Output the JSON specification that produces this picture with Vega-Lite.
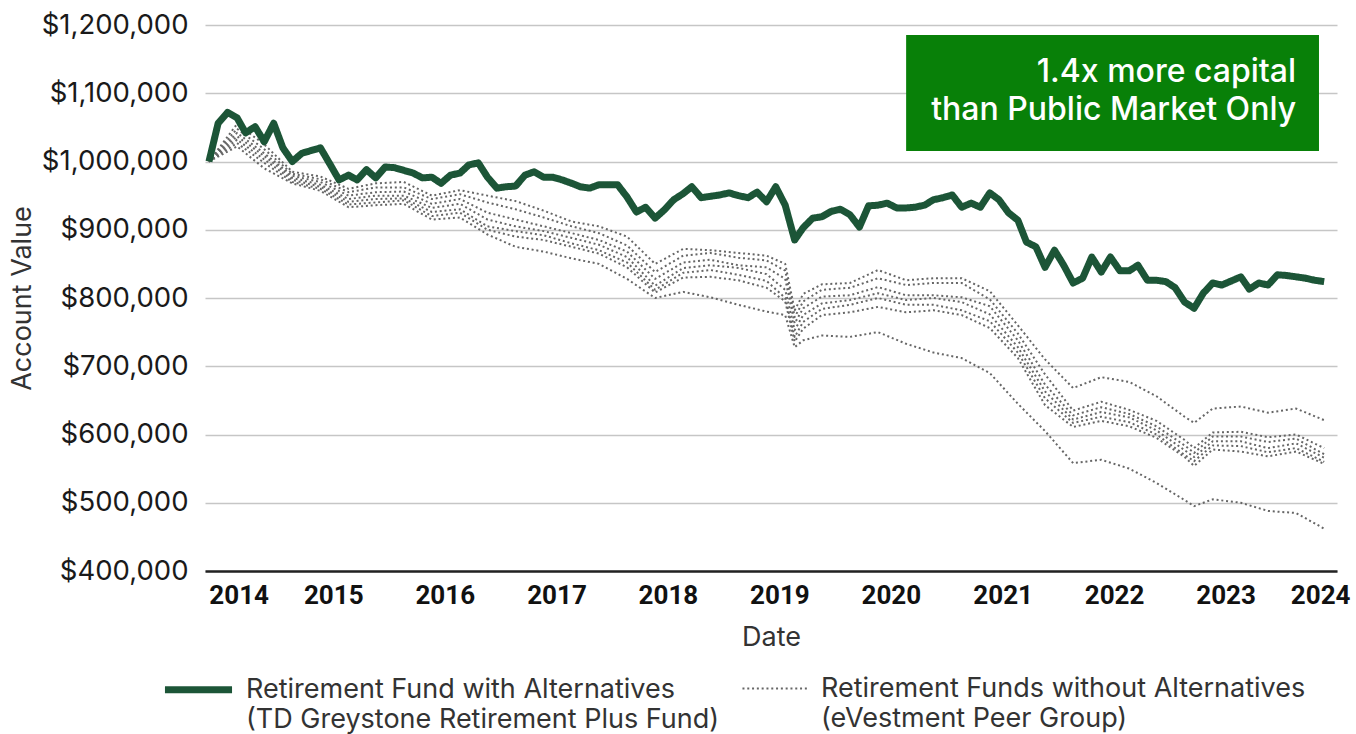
{
  "$schema": "https://vega.github.io/schema/vega-lite/v6.json",
  "width": 1132,
  "height": 546,
  "autosize": {"type": "none"},
  "padding": {"left": 205, "top": 25, "right": 19, "bottom": 163},
  "background": "white",
  "config": {
    "font": "Inter",
    "view": {"stroke": null},
    "style": {"guide-label": {"lineHeight": 30}},
    "legend": {"layout": {"bottom": {"anchor": "end"}}}
  },
  "layer": [
    {
      "data": {"values": [
        {"date":"2013-11-20","TD Greystone Retirement Plus Fund":1000000,"Peer Fund 1":1000000,"Peer Fund 2":1000000,"Peer Fund 3":1000000,"Peer Fund 4":1000000,"Peer Fund 5":1000000,"Peer Fund 6":1000000,"Peer Fund 7":1000000},
        {"date":"2013-12-20","TD Greystone Retirement Plus Fund":1056000},
        {"date":"2014-01-20","TD Greystone Retirement Plus Fund":1072000},
        {"date":"2014-02-20","TD Greystone Retirement Plus Fund":1064000,"Peer Fund 1":1055000,"Peer Fund 2":1048000,"Peer Fund 3":1042000,"Peer Fund 4":1037000,"Peer Fund 5":1032000,"Peer Fund 6":1027000,"Peer Fund 7":1022000},
        {"date":"2014-03-20","TD Greystone Retirement Plus Fund":1042000},
        {"date":"2014-04-20","TD Greystone Retirement Plus Fund":1051000},
        {"date":"2014-05-20","TD Greystone Retirement Plus Fund":1029000,"Peer Fund 1":1025000,"Peer Fund 2":1018000,"Peer Fund 3":1012000,"Peer Fund 4":1008000,"Peer Fund 5":1003000,"Peer Fund 6":998000,"Peer Fund 7":990000},
        {"date":"2014-06-20","TD Greystone Retirement Plus Fund":1056000},
        {"date":"2014-07-20","TD Greystone Retirement Plus Fund":1020000},
        {"date":"2014-08-20","TD Greystone Retirement Plus Fund":1000000,"Peer Fund 1":985000,"Peer Fund 2":982000,"Peer Fund 3":979000,"Peer Fund 4":976000,"Peer Fund 5":973000,"Peer Fund 6":970000,"Peer Fund 7":968000},
        {"date":"2014-09-20","TD Greystone Retirement Plus Fund":1012000},
        {"date":"2014-10-20","TD Greystone Retirement Plus Fund":1016000},
        {"date":"2014-11-20","TD Greystone Retirement Plus Fund":1020000,"Peer Fund 1":978000,"Peer Fund 2":974000,"Peer Fund 3":970000,"Peer Fund 4":966000,"Peer Fund 5":963000,"Peer Fund 6":960000,"Peer Fund 7":957000},
        {"date":"2014-12-20","TD Greystone Retirement Plus Fund":997000},
        {"date":"2015-01-20","TD Greystone Retirement Plus Fund":973000},
        {"date":"2015-02-20","TD Greystone Retirement Plus Fund":980000,"Peer Fund 1":960000,"Peer Fund 2":955000,"Peer Fund 3":950000,"Peer Fund 4":945000,"Peer Fund 5":941000,"Peer Fund 6":937000,"Peer Fund 7":933000},
        {"date":"2015-03-20","TD Greystone Retirement Plus Fund":973000},
        {"date":"2015-04-20","TD Greystone Retirement Plus Fund":988000},
        {"date":"2015-05-20","TD Greystone Retirement Plus Fund":976000,"Peer Fund 1":968000,"Peer Fund 2":962000,"Peer Fund 3":955000,"Peer Fund 4":950000,"Peer Fund 5":945000,"Peer Fund 6":940000,"Peer Fund 7":936000},
        {"date":"2015-06-20","TD Greystone Retirement Plus Fund":992000},
        {"date":"2015-07-20","TD Greystone Retirement Plus Fund":991000},
        {"date":"2015-08-20","TD Greystone Retirement Plus Fund":987000,"Peer Fund 1":970000,"Peer Fund 2":962000,"Peer Fund 3":956000,"Peer Fund 4":950000,"Peer Fund 5":946000,"Peer Fund 6":943000,"Peer Fund 7":938000},
        {"date":"2015-09-20","TD Greystone Retirement Plus Fund":983000},
        {"date":"2015-10-20","TD Greystone Retirement Plus Fund":976000},
        {"date":"2015-11-20","TD Greystone Retirement Plus Fund":977000,"Peer Fund 1":950000,"Peer Fund 2":945000,"Peer Fund 3":938000,"Peer Fund 4":932000,"Peer Fund 5":926000,"Peer Fund 6":920000,"Peer Fund 7":915000},
        {"date":"2015-12-20","TD Greystone Retirement Plus Fund":968000},
        {"date":"2016-01-20","TD Greystone Retirement Plus Fund":980000},
        {"date":"2016-02-20","TD Greystone Retirement Plus Fund":983000,"Peer Fund 1":958000,"Peer Fund 2":952000,"Peer Fund 3":945000,"Peer Fund 4":938000,"Peer Fund 5":930000,"Peer Fund 6":925000,"Peer Fund 7":918000},
        {"date":"2016-03-20","TD Greystone Retirement Plus Fund":995000},
        {"date":"2016-04-20","TD Greystone Retirement Plus Fund":998000},
        {"date":"2016-05-20","TD Greystone Retirement Plus Fund":977000,"Peer Fund 1":950000,"Peer Fund 2":940000,"Peer Fund 3":925000,"Peer Fund 4":915000,"Peer Fund 5":905000,"Peer Fund 6":900000,"Peer Fund 7":893000},
        {"date":"2016-06-20","TD Greystone Retirement Plus Fund":961000},
        {"date":"2016-07-20","TD Greystone Retirement Plus Fund":963000},
        {"date":"2016-08-20","TD Greystone Retirement Plus Fund":964000,"Peer Fund 1":942000,"Peer Fund 2":930000,"Peer Fund 3":915000,"Peer Fund 4":905000,"Peer Fund 5":898000,"Peer Fund 6":890000,"Peer Fund 7":875000},
        {"date":"2016-09-20","TD Greystone Retirement Plus Fund":980000},
        {"date":"2016-10-20","TD Greystone Retirement Plus Fund":985000},
        {"date":"2016-11-20","TD Greystone Retirement Plus Fund":977000,"Peer Fund 1":928000,"Peer Fund 2":918000,"Peer Fund 3":905000,"Peer Fund 4":898000,"Peer Fund 5":892000,"Peer Fund 6":885000,"Peer Fund 7":868000},
        {"date":"2016-12-20","TD Greystone Retirement Plus Fund":977000},
        {"date":"2017-01-20","TD Greystone Retirement Plus Fund":973000},
        {"date":"2017-02-20","TD Greystone Retirement Plus Fund":968000,"Peer Fund 1":912000,"Peer Fund 2":905000,"Peer Fund 3":895000,"Peer Fund 4":888000,"Peer Fund 5":880000,"Peer Fund 6":875000,"Peer Fund 7":858000},
        {"date":"2017-03-20","TD Greystone Retirement Plus Fund":963000},
        {"date":"2017-04-20","TD Greystone Retirement Plus Fund":961000},
        {"date":"2017-05-20","TD Greystone Retirement Plus Fund":966000,"Peer Fund 1":905000,"Peer Fund 2":895000,"Peer Fund 3":885000,"Peer Fund 4":878000,"Peer Fund 5":870000,"Peer Fund 6":865000,"Peer Fund 7":850000},
        {"date":"2017-06-20","TD Greystone Retirement Plus Fund":966000},
        {"date":"2017-07-20","TD Greystone Retirement Plus Fund":966000},
        {"date":"2017-08-20","TD Greystone Retirement Plus Fund":948000,"Peer Fund 1":890000,"Peer Fund 2":877000,"Peer Fund 3":868000,"Peer Fund 4":860000,"Peer Fund 5":852000,"Peer Fund 6":845000,"Peer Fund 7":828000},
        {"date":"2017-09-20","TD Greystone Retirement Plus Fund":926000},
        {"date":"2017-10-20","TD Greystone Retirement Plus Fund":933000},
        {"date":"2017-11-20","TD Greystone Retirement Plus Fund":917000,"Peer Fund 1":850000,"Peer Fund 2":838000,"Peer Fund 3":828000,"Peer Fund 4":818000,"Peer Fund 5":812000,"Peer Fund 6":808000,"Peer Fund 7":800000},
        {"date":"2017-12-20","TD Greystone Retirement Plus Fund":929000},
        {"date":"2018-01-20","TD Greystone Retirement Plus Fund":944000},
        {"date":"2018-02-20","TD Greystone Retirement Plus Fund":953000,"Peer Fund 1":872000,"Peer Fund 2":862000,"Peer Fund 3":852000,"Peer Fund 4":844000,"Peer Fund 5":837000,"Peer Fund 6":830000,"Peer Fund 7":809000},
        {"date":"2018-03-20","TD Greystone Retirement Plus Fund":963000},
        {"date":"2018-04-20","TD Greystone Retirement Plus Fund":947000},
        {"date":"2018-05-20","TD Greystone Retirement Plus Fund":949000,"Peer Fund 1":870000,"Peer Fund 2":866000,"Peer Fund 3":856000,"Peer Fund 4":848000,"Peer Fund 5":841000,"Peer Fund 6":831000,"Peer Fund 7":801000},
        {"date":"2018-06-20","TD Greystone Retirement Plus Fund":951000},
        {"date":"2018-07-20","TD Greystone Retirement Plus Fund":954000},
        {"date":"2018-08-20","TD Greystone Retirement Plus Fund":950000,"Peer Fund 1":866000,"Peer Fund 2":859000,"Peer Fund 3":848000,"Peer Fund 4":844000,"Peer Fund 5":834000,"Peer Fund 6":826000,"Peer Fund 7":790000},
        {"date":"2018-09-20","TD Greystone Retirement Plus Fund":947000},
        {"date":"2018-10-20","TD Greystone Retirement Plus Fund":955000},
        {"date":"2018-11-20","TD Greystone Retirement Plus Fund":941000,"Peer Fund 1":862000,"Peer Fund 2":855000,"Peer Fund 3":845000,"Peer Fund 4":835000,"Peer Fund 5":825000,"Peer Fund 6":815000,"Peer Fund 7":780000},
        {"date":"2018-12-20","TD Greystone Retirement Plus Fund":963000},
        {"date":"2019-01-20","TD Greystone Retirement Plus Fund":936000,"Peer Fund 1":850000,"Peer Fund 2":840000,"Peer Fund 3":828000,"Peer Fund 4":812000,"Peer Fund 5":800000,"Peer Fund 6":795000,"Peer Fund 7":775000},
        {"date":"2019-02-20","TD Greystone Retirement Plus Fund":885000,"Peer Fund 1":782000,"Peer Fund 2":772000,"Peer Fund 3":763000,"Peer Fund 4":753000,"Peer Fund 5":743000,"Peer Fund 6":736000,"Peer Fund 7":728000},
        {"date":"2019-03-20","TD Greystone Retirement Plus Fund":903000,"Peer Fund 1":806000,"Peer Fund 2":795000,"Peer Fund 3":785000,"Peer Fund 4":775000,"Peer Fund 5":765000,"Peer Fund 6":755000,"Peer Fund 7":738000},
        {"date":"2019-04-20","TD Greystone Retirement Plus Fund":917000},
        {"date":"2019-05-20","TD Greystone Retirement Plus Fund":919000,"Peer Fund 1":820000,"Peer Fund 2":812000,"Peer Fund 3":802000,"Peer Fund 4":792000,"Peer Fund 5":784000,"Peer Fund 6":775000,"Peer Fund 7":745000},
        {"date":"2019-06-20","TD Greystone Retirement Plus Fund":927000},
        {"date":"2019-07-20","TD Greystone Retirement Plus Fund":930000},
        {"date":"2019-08-20","TD Greystone Retirement Plus Fund":922000,"Peer Fund 1":822000,"Peer Fund 2":815000,"Peer Fund 3":804000,"Peer Fund 4":797000,"Peer Fund 5":790000,"Peer Fund 6":779000,"Peer Fund 7":743000},
        {"date":"2019-09-20","TD Greystone Retirement Plus Fund":904000},
        {"date":"2019-10-20","TD Greystone Retirement Plus Fund":935000},
        {"date":"2019-11-20","TD Greystone Retirement Plus Fund":936000,"Peer Fund 1":841000,"Peer Fund 2":829000,"Peer Fund 3":816000,"Peer Fund 4":807000,"Peer Fund 5":800000,"Peer Fund 6":787000,"Peer Fund 7":750000},
        {"date":"2019-12-20","TD Greystone Retirement Plus Fund":939000},
        {"date":"2020-01-20","TD Greystone Retirement Plus Fund":932000},
        {"date":"2020-02-20","TD Greystone Retirement Plus Fund":932000,"Peer Fund 1":826000,"Peer Fund 2":819000,"Peer Fund 3":804000,"Peer Fund 4":797000,"Peer Fund 5":790000,"Peer Fund 6":779000,"Peer Fund 7":733000},
        {"date":"2020-03-20","TD Greystone Retirement Plus Fund":933000},
        {"date":"2020-04-20","TD Greystone Retirement Plus Fund":936000},
        {"date":"2020-05-20","TD Greystone Retirement Plus Fund":944000,"Peer Fund 1":829000,"Peer Fund 2":822000,"Peer Fund 3":804000,"Peer Fund 4":800000,"Peer Fund 5":790000,"Peer Fund 6":782000,"Peer Fund 7":720000},
        {"date":"2020-06-20","TD Greystone Retirement Plus Fund":947000},
        {"date":"2020-07-20","TD Greystone Retirement Plus Fund":951000},
        {"date":"2020-08-20","TD Greystone Retirement Plus Fund":933000,"Peer Fund 1":829000,"Peer Fund 2":822000,"Peer Fund 3":801000,"Peer Fund 4":794000,"Peer Fund 5":782000,"Peer Fund 6":775000,"Peer Fund 7":712000},
        {"date":"2020-09-20","TD Greystone Retirement Plus Fund":939000},
        {"date":"2020-10-20","TD Greystone Retirement Plus Fund":933000},
        {"date":"2020-11-20","TD Greystone Retirement Plus Fund":954000,"Peer Fund 1":810000,"Peer Fund 2":798000,"Peer Fund 3":788000,"Peer Fund 4":776000,"Peer Fund 5":766000,"Peer Fund 6":756000,"Peer Fund 7":690000},
        {"date":"2020-12-20","TD Greystone Retirement Plus Fund":944000},
        {"date":"2021-01-20","TD Greystone Retirement Plus Fund":925000},
        {"date":"2021-02-20","TD Greystone Retirement Plus Fund":914000,"Peer Fund 1":760000,"Peer Fund 2":748000,"Peer Fund 3":738000,"Peer Fund 4":728000,"Peer Fund 5":720000,"Peer Fund 6":712000,"Peer Fund 7":645000},
        {"date":"2021-03-20","TD Greystone Retirement Plus Fund":882000},
        {"date":"2021-04-20","TD Greystone Retirement Plus Fund":875000},
        {"date":"2021-05-20","TD Greystone Retirement Plus Fund":845000,"Peer Fund 1":710000,"Peer Fund 2":688000,"Peer Fund 3":673000,"Peer Fund 4":663000,"Peer Fund 5":653000,"Peer Fund 6":643000,"Peer Fund 7":605000},
        {"date":"2021-06-20","TD Greystone Retirement Plus Fund":870000},
        {"date":"2021-07-20","TD Greystone Retirement Plus Fund":848000},
        {"date":"2021-08-20","TD Greystone Retirement Plus Fund":822000,"Peer Fund 1":668000,"Peer Fund 2":635000,"Peer Fund 3":628000,"Peer Fund 4":622000,"Peer Fund 5":617000,"Peer Fund 6":611000,"Peer Fund 7":558000},
        {"date":"2021-09-20","TD Greystone Retirement Plus Fund":829000},
        {"date":"2021-10-20","TD Greystone Retirement Plus Fund":860000},
        {"date":"2021-11-20","TD Greystone Retirement Plus Fund":838000,"Peer Fund 1":684000,"Peer Fund 2":648000,"Peer Fund 3":640000,"Peer Fund 4":633000,"Peer Fund 5":626000,"Peer Fund 6":620000,"Peer Fund 7":563000},
        {"date":"2021-12-20","TD Greystone Retirement Plus Fund":860000},
        {"date":"2022-01-20","TD Greystone Retirement Plus Fund":840000},
        {"date":"2022-02-20","TD Greystone Retirement Plus Fund":840000,"Peer Fund 1":677000,"Peer Fund 2":636000,"Peer Fund 3":630000,"Peer Fund 4":625000,"Peer Fund 5":618000,"Peer Fund 6":612000,"Peer Fund 7":550000},
        {"date":"2022-03-20","TD Greystone Retirement Plus Fund":848000},
        {"date":"2022-04-20","TD Greystone Retirement Plus Fund":826000},
        {"date":"2022-05-20","TD Greystone Retirement Plus Fund":826000,"Peer Fund 1":656000,"Peer Fund 2":620000,"Peer Fund 3":612000,"Peer Fund 4":606000,"Peer Fund 5":600000,"Peer Fund 6":595000,"Peer Fund 7":529000},
        {"date":"2022-06-20","TD Greystone Retirement Plus Fund":824000},
        {"date":"2022-07-20","TD Greystone Retirement Plus Fund":815000},
        {"date":"2022-08-20","TD Greystone Retirement Plus Fund":794000,"Peer Fund 1":626000,"Peer Fund 2":592000,"Peer Fund 3":584000,"Peer Fund 4":577000,"Peer Fund 5":570000,"Peer Fund 6":567000,"Peer Fund 7":504000},
        {"date":"2022-09-20","TD Greystone Retirement Plus Fund":785000,"Peer Fund 1":617000,"Peer Fund 2":580000,"Peer Fund 3":573000,"Peer Fund 4":567000,"Peer Fund 5":561000,"Peer Fund 6":554000,"Peer Fund 7":495000},
        {"date":"2022-10-20","TD Greystone Retirement Plus Fund":807000},
        {"date":"2022-11-20","TD Greystone Retirement Plus Fund":822000,"Peer Fund 1":638000,"Peer Fund 2":603000,"Peer Fund 3":597000,"Peer Fund 4":590000,"Peer Fund 5":584000,"Peer Fund 6":578000,"Peer Fund 7":505000},
        {"date":"2022-12-20","TD Greystone Retirement Plus Fund":819000},
        {"date":"2023-01-20","TD Greystone Retirement Plus Fund":825000},
        {"date":"2023-02-20","TD Greystone Retirement Plus Fund":831000,"Peer Fund 1":641000,"Peer Fund 2":604000,"Peer Fund 3":597000,"Peer Fund 4":590000,"Peer Fund 5":583000,"Peer Fund 6":575000,"Peer Fund 7":500000},
        {"date":"2023-03-20","TD Greystone Retirement Plus Fund":813000},
        {"date":"2023-04-20","TD Greystone Retirement Plus Fund":822000},
        {"date":"2023-05-20","TD Greystone Retirement Plus Fund":819000,"Peer Fund 1":632000,"Peer Fund 2":596000,"Peer Fund 3":589000,"Peer Fund 4":580000,"Peer Fund 5":574000,"Peer Fund 6":568000,"Peer Fund 7":488000},
        {"date":"2023-06-20","TD Greystone Retirement Plus Fund":834000},
        {"date":"2023-07-20","TD Greystone Retirement Plus Fund":833000},
        {"date":"2023-08-20","TD Greystone Retirement Plus Fund":831000,"Peer Fund 1":638000,"Peer Fund 2":600000,"Peer Fund 3":594000,"Peer Fund 4":587000,"Peer Fund 5":580000,"Peer Fund 6":575000,"Peer Fund 7":485000},
        {"date":"2023-09-20","TD Greystone Retirement Plus Fund":829000},
        {"date":"2023-10-20","TD Greystone Retirement Plus Fund":826000},
        {"date":"2023-11-20","TD Greystone Retirement Plus Fund":824000,"Peer Fund 1":621000,"Peer Fund 2":580000,"Peer Fund 3":571000,"Peer Fund 4":566000,"Peer Fund 5":560000,"Peer Fund 6":557000,"Peer Fund 7":462000}
      ]},
      "transform": [
        {"fold": ["Peer Fund 1","Peer Fund 2","Peer Fund 3","Peer Fund 4","Peer Fund 5","Peer Fund 6","Peer Fund 7","TD Greystone Retirement Plus Fund"], "as": ["fund","value"]},
        {"filter": "isValid(datum.value)"},
        {"lookup": "fund", "from": {"data": {"values": [
          {"fund":"TD Greystone Retirement Plus Fund","series":"Retirement Fund with Alternatives (TD Greystone Retirement Plus Fund)"},
          {"fund":"Peer Fund 1","series":"Retirement Funds without Alternatives (eVestment Peer Group)"},
          {"fund":"Peer Fund 2","series":"Retirement Funds without Alternatives (eVestment Peer Group)"},
          {"fund":"Peer Fund 3","series":"Retirement Funds without Alternatives (eVestment Peer Group)"},
          {"fund":"Peer Fund 4","series":"Retirement Funds without Alternatives (eVestment Peer Group)"},
          {"fund":"Peer Fund 5","series":"Retirement Funds without Alternatives (eVestment Peer Group)"},
          {"fund":"Peer Fund 6","series":"Retirement Funds without Alternatives (eVestment Peer Group)"},
          {"fund":"Peer Fund 7","series":"Retirement Funds without Alternatives (eVestment Peer Group)"}
        ]}, "key": "fund", "fields": ["series"]}}
      ],
      "mark": {"type": "line", "strokeCap": "butt", "strokeJoin": "round"},
      "encoding": {
        "x": {
          "field": "date", "type": "temporal", "title": "Date",
          "scale": {"domain": [{"year": 2013, "month": 11, "date": 7}, {"year": 2024, "month": 1, "date": 1}]},
          "axis": {
            "values": [{"year":2014,"month":1,"date":1},{"year":2015,"month":1,"date":1},{"year":2016,"month":1,"date":1},{"year":2017,"month":1,"date":1},{"year":2018,"month":1,"date":1},{"year":2019,"month":1,"date":1},{"year":2020,"month":1,"date":1},{"year":2021,"month":1,"date":1},{"year":2022,"month":1,"date":1},{"year":2023,"month":1,"date":1},{"year":2024,"month":1,"date":1}],
            "format": "%Y",
            "labelFont": "Roboto", "labelFontWeight": "bold", "labelFontSize": 26, "labelColor": "#111111",
            "labelFlush": 20, "labelFlushOffset": 13, "labelPadding": 11, "labelOverlap": false,
            "ticks": false, "grid": false,
            "domainColor": "#222222", "domainWidth": 2.5,
            "titleFont": "Inter", "titleFontSize": 27, "titleFontWeight": "normal", "titleColor": "#333333", "titlePadding": 16
          }
        },
        "y": {
          "field": "value", "type": "quantitative", "title": "Account Value",
          "scale": {"domain": [400000, 1200000]},
          "axis": {
            "values": [400000,500000,600000,700000,800000,900000,1000000,1100000,1200000],
            "format": "$,.0f",
            "labelFont": "Inter", "labelFontSize": 27.5, "labelColor": "#1a1a1a", "labelPadding": 17,
            "ticks": false, "domain": false,
            "grid": true, "gridColor": "#c6c6c6", "gridWidth": 1.5,
            "titleFont": "Inter", "titleFontSize": 27, "titleFontWeight": "normal", "titleColor": "#333333", "titlePadding": 5
          }
        },
        "color": {
          "field": "series", "type": "nominal",
          "scale": {"domain": ["Retirement Fund with Alternatives (TD Greystone Retirement Plus Fund)", "Retirement Funds without Alternatives (eVestment Peer Group)"], "range": ["#1c5537", "#666666"]},
          "legend": {"title": null, "orient": "bottom", "direction": "horizontal", "symbolType": "stroke", "symbolSize": 4500, "labelFont": "Inter", "labelFontSize": 27, "labelColor": "#333333", "labelLimit": 0, "labelOffset": 10, "labelBaseline": "middle", "columnPadding": 18, "padding": 31, "offset": -29, "labelExpr": "[slice(datum.label, 0, indexof(datum.label, ' (')), slice(datum.label, indexof(datum.label, ' (') + 1)]"}
        },
        "strokeDash": {
          "field": "series", "type": "nominal",
          "scale": {"domain": ["Retirement Fund with Alternatives (TD Greystone Retirement Plus Fund)", "Retirement Funds without Alternatives (eVestment Peer Group)"], "range": [[1, 0], [2, 2.8]]},
          "legend": {"title": null, "orient": "bottom", "direction": "horizontal", "symbolType": "stroke", "symbolSize": 4500, "labelFont": "Inter", "labelFontSize": 27, "labelColor": "#333333", "labelLimit": 0, "labelOffset": 10, "labelBaseline": "middle", "columnPadding": 18, "padding": 31, "offset": -29, "labelExpr": "[slice(datum.label, 0, indexof(datum.label, ' (')), slice(datum.label, indexof(datum.label, ' (') + 1)]"}
        },
        "strokeWidth": {
          "field": "series", "type": "nominal",
          "scale": {"domain": ["Retirement Fund with Alternatives (TD Greystone Retirement Plus Fund)", "Retirement Funds without Alternatives (eVestment Peer Group)"], "range": [7, 2]},
          "legend": {"title": null, "orient": "bottom", "direction": "horizontal", "symbolType": "stroke", "symbolSize": 4500, "labelFont": "Inter", "labelFontSize": 27, "labelColor": "#333333", "labelLimit": 0, "labelOffset": 10, "labelBaseline": "middle", "columnPadding": 18, "padding": 31, "offset": -29, "labelExpr": "[slice(datum.label, 0, indexof(datum.label, ' (')), slice(datum.label, indexof(datum.label, ' (') + 1)]"}
        },
        "detail": {"field": "fund", "type": "nominal"}
      }
    },
    {
      "data": {"values": [{}]},
      "mark": {"type": "rect", "color": "#088008"},
      "encoding": {
        "x": {"datum": {"year": 2020, "month": 2, "date": 20}, "type": "temporal"},
        "x2": {"datum": {"year": 2023, "month": 11, "date": 3}},
        "y": {"datum": 1185350, "type": "quantitative"},
        "y2": {"datum": 1015400}
      }
    },
    {
      "data": {"values": [{}]},
      "mark": {"type": "text", "align": "right", "baseline": "middle", "font": "Inter", "fontSize": 32, "fontWeight": 500, "color": "#ffffff", "lineHeight": 38, "text": ["1.4x more capital", "than Public Market Only"]},
      "encoding": {
        "x": {"datum": {"year": 2023, "month": 8, "date": 20}, "type": "temporal"},
        "y": {"datum": 1131100, "type": "quantitative"}
      }
    }
  ]
}
